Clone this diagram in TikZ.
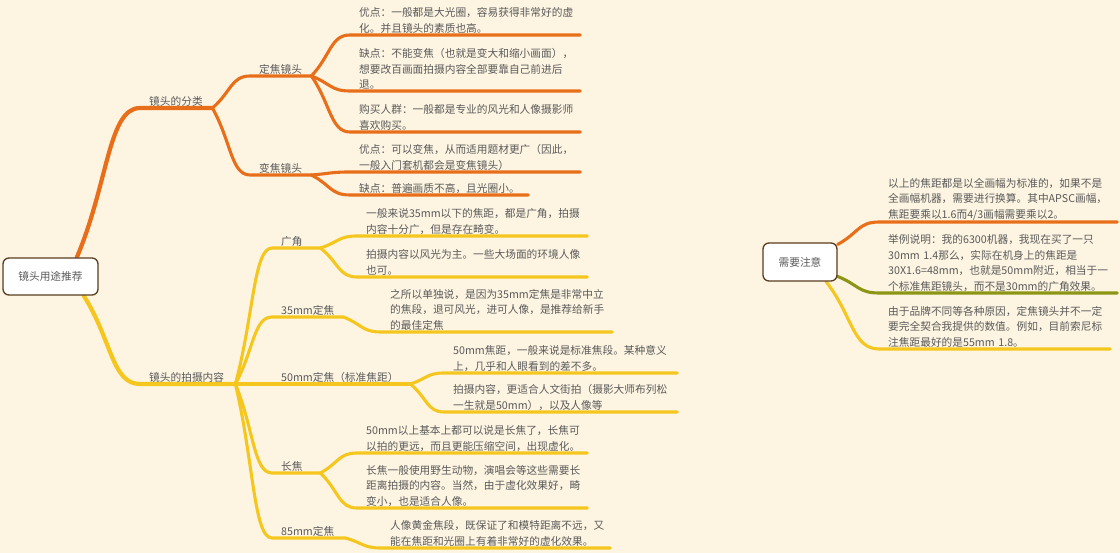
\documentclass[tikz,border=0pt]{standalone}
\usepackage{fontspec}
\setmainfont{Noto Sans CJK SC}
\usetikzlibrary{calc, backgrounds}
\definecolor{paper}{HTML}{FDF5E2}
\definecolor{lensorange}{HTML}{E86E19}
\definecolor{lensyellow}{HTML}{F5C71E}
\definecolor{lensolive}{HTML}{8C9614}
\definecolor{inkgray}{HTML}{5A5A5A}
\definecolor{boxbrown}{HTML}{5A3C1E}
\hfuzz=40pt

\begin{document}
\begin{tikzpicture}[
    x=1pt, y=-1pt,
    every node/.style={text=inkgray, font=\fontsize{10.7}{15.4}\selectfont},
    topic/.style={draw=boxbrown, fill=white, rectangle, rounded corners=6pt, line width=1.3pt, minimum width=95pt, minimum height=37pt, align=center},
    item/.style={anchor=south west, align=left, inner xsep=9pt, inner ysep=1.6pt},
    link/.style={line width=3.1pt, line cap=round, to path={.. controls ($(\tikztostart)!0.5!(\tikztotarget)$) and ($(\tikztotarget)!0.5!(\tikztotarget -| \tikztostart)$) .. (\tikztotarget) \tikztonodes}},
    trunk/.style={link, line width=4.2pt}
]
\useasboundingbox (0,0) rectangle (1120,553);

\node (root) [topic] at (50.5,276.5) {镜头用途推荐};
\node (note) [topic, minimum width=74pt, minimum height=38pt] at (800,262) {需要注意};

% lens types
\node (fen) [item, text width=54pt] at (140,108) {镜头的分类};
\node (ding) [item, text width=43pt] at (250,76) {定焦镜头};
\node (bian) [item, text width=43pt] at (250,175) {变焦镜头};
\node (dinga) [item, text width=212pt] at (350,35) {优点：一般都是大光圈，容易获得非常好的虚\\化。并且镜头的素质也高。};
\node (dingb) [item, text width=212pt] at (350,91) {缺点：不能变焦（也就是变大和缩小画面），\\想要改百画面拍摄内容全部要靠自己前进后\\退。};
\node (dingc) [item, text width=212pt] at (350,132) {购买人群：一般都是专业的风光和人像摄影师\\喜欢购买。};
\node (biana) [item, text width=212pt] at (350,172) {优点：可以变焦，从而适用题材更广（因此，\\一般入门套机都会是变焦镜头）};
\node (bianb) [item, text width=160pt] at (350,195) {缺点：普遍画质不高，且光圈小。};

% shooting content
\node (pai) [item, text width=77pt] at (140,384) {镜头的拍摄内容};
\node (guang) [item, text width=30pt] at (272,248) {广角};
\node (fa) [item, text width=53pt] at (272,317) {35mm定焦};
\node (fb) [item, text width=120pt] at (272,384) {50mm定焦（标准焦距）};
\node (chang) [item, text width=30pt] at (272,473) {长焦};
\node (fc) [item, text width=55pt] at (272,538) {85mm定焦};
\node (guanga) [item, text width=212pt] at (357,236) {一般来说35mm以下的焦距，都是广角，拍摄\\内容十分广，但是存在畸变。};
\node (guangb) [item, text width=212pt] at (357,277) {拍摄内容以风光为主。一些大场面的环境人像\\也可。};
\node (faa) [item, text width=213pt] at (381,332) {之所以单独说，是因为35mm定焦是非常中立\\的焦段，退可风光，进可人像，是推荐给新手\\的最佳定焦};
\node (fba) [item, text width=215pt] at (444,373) {50mm焦距，一般来说是标准焦段。某种意义\\上，几乎和人眼看到的差不多。};
\node (fbb) [item, text width=215pt] at (444,412) {拍摄内容，更适合人文街拍（摄影大师布列松\\一生就是50mm），以及人像等};
\node (changa) [item, text width=212pt] at (357,453) {50mm以上基本上都可以说是长焦了，长焦可\\以拍的更远，而且更能压缩空间，出现虚化。};
\node (changb) [item, text width=212pt] at (357,508) {长焦一般使用野生动物，演唱会等这些需要长\\距离拍摄的内容。当然，由于虚化效果好，畸\\变小，也是适合人像。};
\node (fca) [item, text width=211pt] at (381,548) {人像黄金焦段，既保证了和模特距离不远，又\\能在焦距和光圈上有着非常好的虚化效果。};

% notes
\node (notea) [item, text width=220pt] at (879,222) {以上的焦距都是以全画幅为标准的，如果不是\\全画幅机器，需要进行换算。其中APSC画幅，\\焦距要乘以1.6而4/3画幅需要乘以2。};
\node (noteb) [item, text width=220pt] at (879,293) {举例说明：我的6300机器，我现在买了一只\\30mm 1.4那么，实际在机身上的焦距是\\30X1.6=48mm，也就是50mm附近，相当于一\\个标准焦距镜头，而不是30mm的广角效果。};
\node (notec) [item, text width=213pt] at (879,349) {由于品牌不同等各种原因，定焦镜头并不一定\\要完全契合我提供的数值。例如，目前索尼标\\注焦距最好的是55mm 1.8。};

\begin{scope}[on background layer]
\fill[paper] (0,0) rectangle (1120,553);
% orange branch
\draw[trunk, lensorange] (root.36) to (fen.south west) -- (fen.south east);
\draw[link, lensorange] (fen.south east) to (ding.south west) -- (ding.south east);
\draw[link, lensorange] (fen.south east) to (bian.south west) -- (bian.south east);
\draw[link, lensorange] (ding.south east) to (dinga.south west) -- (dinga.south east);
\draw[link, lensorange] (ding.south east) to (dingb.south west) -- (dingb.south east);
\draw[link, lensorange] (ding.south east) to (dingc.south west) -- (dingc.south east);
\draw[link, lensorange] (bian.south east) to (biana.south west) -- (biana.south east);
\draw[link, lensorange] (bian.south east) to (bianb.south west) -- (bianb.south east);
% yellow branch
\draw[trunk, lensyellow] (root.-30) to (pai.south west) -- (pai.south east);
\draw[link, lensyellow] (pai.south east) to (guang.south west) -- (guang.south east);
\draw[link, lensyellow] (pai.south east) to (fa.south west) -- (fa.south east);
\draw[link, lensyellow] (pai.south east) to (fb.south west) -- (fb.south east);
\draw[link, lensyellow] (pai.south east) to (chang.south west) -- (chang.south east);
\draw[link, lensyellow] (pai.south east) to (fc.south west) -- (fc.south east);
\draw[link, lensyellow] (guang.south east) to (guanga.south west) -- (guanga.south east);
\draw[link, lensyellow] (guang.south east) to (guangb.south west) -- (guangb.south east);
\draw[link, lensyellow] (fa.south east) to (faa.south west) -- (faa.south east);
\draw[link, lensyellow] (fb.south east) to (fba.south west) -- (fba.south east);
\draw[link, lensyellow] (fb.south east) to (fbb.south west) -- (fbb.south east);
\draw[link, lensyellow] (chang.south east) to (changa.south west) -- (changa.south east);
\draw[link, lensyellow] (chang.south east) to (changb.south west) -- (changb.south east);
\draw[link, lensyellow] (fc.south east) to (fca.south west) -- (fca.south east);
% notes
\draw[link, lensorange] (note.25) to (notea.south west) -- (notea.south east);
\draw[link, lensolive] (note.-21) to (noteb.south west) -- (noteb.south east);
\draw[link, lensyellow] (note.-37) to (notec.south west) -- (notec.south east);
\end{scope}

\end{tikzpicture}
\end{document}
